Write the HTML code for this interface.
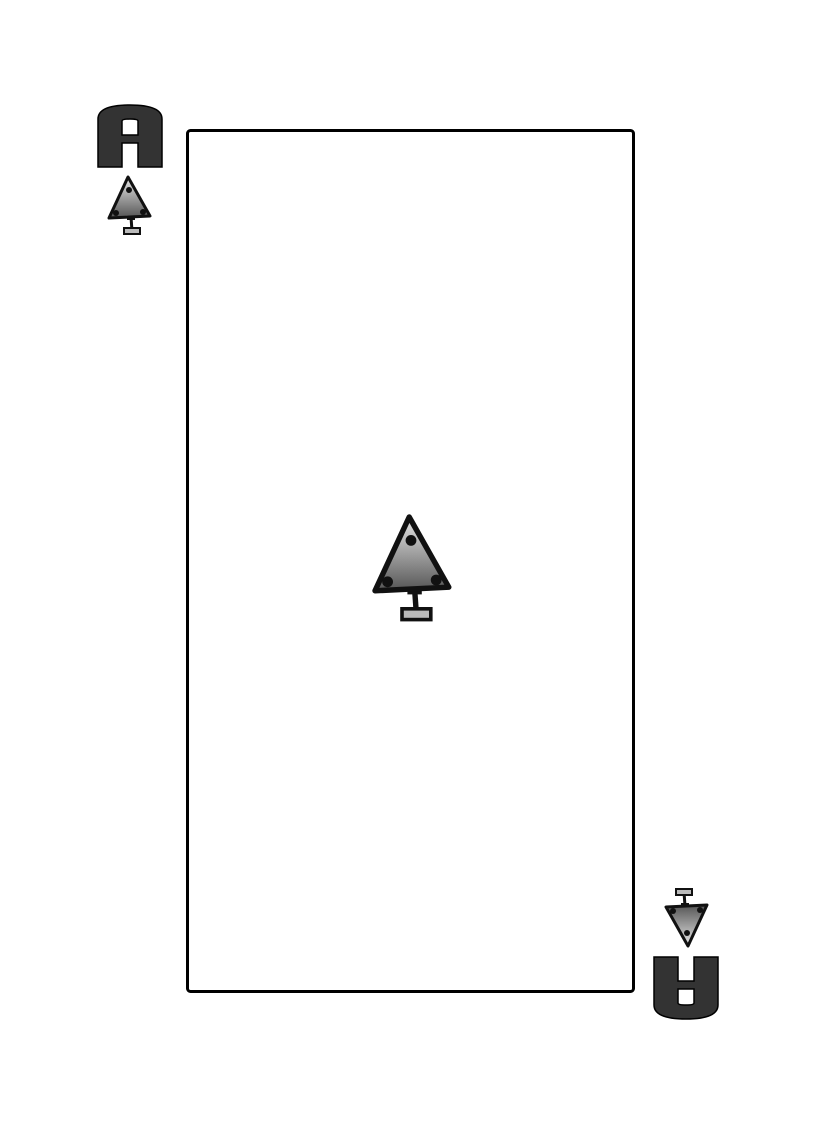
<!DOCTYPE html>
<html><head><style>html,body{margin:0;padding:0;background:#fff;}svg{display:block}</style></head>
<body>
<svg width="822" height="1122" viewBox="0 0 822 1122" xmlns="http://www.w3.org/2000/svg">
<defs>
<linearGradient id="g" x1="0" y1="0" x2="0" y2="1"><stop offset="0" stop-color="#e8e8e8"/><stop offset="1" stop-color="#555"/></linearGradient>
<g id="block">
<path d="M0,62 L0,14 Q0,0 32,0 Q64,0 64,14 L64,62 L40,62 L40,38 L24,38 L24,62 Z M24,16 L24,30 L40,30 L40,16 Q40,14 32,14 Q24,14 24,16 Z" fill="#333" stroke="#000" stroke-width="1.5" fill-rule="evenodd"/>
</g>
<g id="tree">
<line x1="22" y1="40" x2="23" y2="54" stroke="#111" stroke-width="3"/>
<line x1="18" y1="42" x2="26" y2="42" stroke="#111" stroke-width="2"/>
<rect x="15" y="51" width="16" height="6" fill="#bbb" stroke="#111" stroke-width="2"/>
<path d="M19,0 L41,39 L0,41 Z" fill="url(#g)" stroke="#111" stroke-width="3" stroke-linejoin="round"/>
<circle cx="20" cy="13" r="3" fill="#111"/>
<circle cx="7" cy="36" r="3" fill="#111"/>
<circle cx="34" cy="35" r="3" fill="#111"/>
</g>
</defs>
<rect x="187.5" y="130.5" width="446" height="861" rx="3" fill="none" stroke="#000" stroke-width="3"/>
<use href="#block" x="98" y="105"/>
<use href="#tree" x="109" y="177"/>
<use href="#tree" transform="translate(375,517) scale(1.8)"/>
<use href="#tree" transform="translate(707,946) rotate(180)"/>
<use href="#block" transform="translate(718,1019) rotate(180)"/>
</svg>
</body></html>
